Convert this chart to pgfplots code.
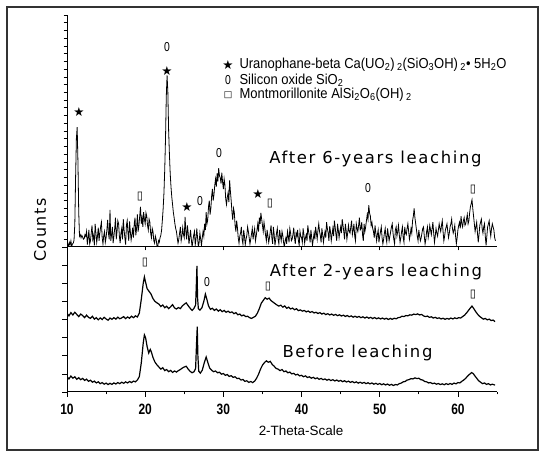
\documentclass[border=0pt]{standalone}
\usepackage{pgfplots}
\pgfplotsset{compat=1.18}
\usepackage{fontspec}
\setmainfont{Liberation Sans}
\newfontfamily\cond[FakeStretch=0.8]{Liberation Sans}
\newfontfamily\legf[FakeStretch=0.9]{Liberation Sans}
\newfontfamily\wide[LetterSpace=10]{DejaVu Sans}
\newfontfamily\sym{DejaVu Sans}

\newcommand{\st}{{\sym\fontsize{12.5}{12.5}\selectfont ★}}
\newcommand{\oo}{{\cond\fontsize{13}{13}\selectfont 0}}
\newcommand{\sq}{{\sym\fontsize{11.5}{11.5}\selectfont ▯}}

\begin{document}
\begin{tikzpicture}[x=1bp, y=1bp]
\path (0,0) rectangle (543,453);
\draw[line width=1.1bp, black!80] (7,3) rectangle (538,446);

% common look of both panels
\pgfplotsset{
  xrd/.style={
    scale only axis, width=430bp, anchor=south west,
    xmin=10, xmax=65, ymin=0,
    axis x line*=bottom, axis y line*=left,
    axis line style={-, line width=1bp},
    tick align=outside,
    tick style={black, line width=0.7bp},
    yticklabels={},
    /pgf/number format/assume math mode=true,
  },
}

% After 6 years of leaching
\begin{axis}[xrd, at={(67bp,206bp)}, height=232bp, ymax=300,
  xtick={10,20,...,60}, xticklabels={},
  ytick={0,10,...,300}, major tick length=3.5bp]
\addplot[black, line width=0.8bp] coordinates {
(10.0,2) (10.1,4) (10.2,0) (10.3,6) (10.4,3) (10.5,8) (10.6,1) (10.7,4) (10.8,5) (10.9,9)
(11.0,30) (11.1,90) (11.2,140) (11.3,155) (11.4,110) (11.5,45) (11.6,14) (11.7,16) (11.8,12) (11.9,15)
(12.0,13) (12.1,10) (12.2,11) (12.3,16) (12.4,14) (12.5,20) (12.6,3) (12.7,12) (12.8,22) (12.9,4)
(13.0,8) (13.1,18) (13.2,28) (13.3,10) (13.4,15) (13.5,2) (13.6,30) (13.7,18) (13.8,6) (13.9,14)
(14.0,25) (14.1,8) (14.2,18) (14.3,26) (14.4,32) (14.5,12) (14.6,4) (14.7,15) (14.8,20) (14.9,6)
(15.0,12) (15.1,22) (15.2,35) (15.3,18) (15.4,10) (15.5,48) (15.6,8) (15.7,16) (15.8,26) (15.9,5)
(16.0,14) (16.1,24) (16.2,38) (16.3,10) (16.4,20) (16.5,34) (16.6,30) (16.7,14) (16.8,5) (16.9,18)
(17.0,24) (17.1,10) (17.2,36) (17.3,22) (17.4,12) (17.5,3) (17.6,28) (17.7,34) (17.8,18) (17.9,8)
(18.0,33) (18.1,20) (18.2,9) (18.3,16) (18.4,25) (18.5,12) (18.6,30) (18.7,38) (18.8,15) (18.9,24)
(19.0,42) (19.1,20) (19.2,28) (19.3,40) (19.4,52) (19.5,30) (19.6,38) (19.7,26) (19.8,45) (19.9,36)
(20.0,30) (20.1,44) (20.2,40) (20.3,28) (20.4,22) (20.5,36) (20.6,32) (20.7,18) (20.8,12) (20.9,24)
(21.0,20) (21.1,8) (21.2,5) (21.3,14) (21.4,10) (21.5,2) (21.6,0) (21.7,8) (21.8,6) (21.9,12)
(22.0,15) (22.1,22) (22.2,35) (22.3,50) (22.4,70) (22.5,100) (22.6,140) (22.7,195) (22.8,222) (22.9,200)
(23.0,150) (23.1,120) (23.2,95) (23.3,78) (23.4,65) (23.5,55) (23.6,45) (23.7,38) (23.8,30) (23.9,24)
(24.0,20) (24.1,12) (24.2,5) (24.3,10) (24.4,18) (24.5,26) (24.6,8) (24.7,14) (24.8,25) (24.9,16)
(25.0,12) (25.1,39) (25.2,20) (25.3,10) (25.4,28) (25.5,18) (25.6,4) (25.7,12) (25.8,22) (25.9,10)
(26.0,0) (26.1,8) (26.2,15) (26.3,20) (26.4,3) (26.5,10) (26.6,24) (26.7,12) (26.8,0) (26.9,6)
(27.0,18) (27.1,10) (27.2,2) (27.3,12) (27.4,20) (27.5,14) (27.6,30) (27.7,22) (27.8,45) (27.9,30)
(28.0,35) (28.1,52) (28.2,60) (28.3,42) (28.4,50) (28.5,66) (28.6,75) (28.7,60) (28.8,68) (28.9,80)
(29.0,88) (29.1,78) (29.2,95) (29.3,85) (29.4,102) (29.5,92) (29.6,90) (29.7,82) (29.8,96) (29.9,84)
(30.0,75) (30.1,88) (30.2,80) (30.3,62) (30.4,55) (30.5,64) (30.6,70) (30.7,58) (30.8,86) (30.9,72)
(31.0,60) (31.1,45) (31.2,35) (31.3,50) (31.4,45) (31.5,28) (31.6,20) (31.7,34) (31.8,25) (31.9,12)
(32.0,5) (32.1,14) (32.2,18) (32.3,26) (32.4,10) (32.5,4) (32.6,22) (32.7,14) (32.8,3) (32.9,10)
(33.0,15) (33.1,26) (33.2,20) (33.3,12) (33.4,4) (33.5,10) (33.6,17) (33.7,24) (33.8,10) (33.9,18)
(34.0,24) (34.1,8) (34.2,14) (34.3,22) (34.4,30) (34.5,20) (34.6,38) (34.7,30) (34.8,44) (34.9,36)
(35.0,28) (35.1,20) (35.2,32) (35.3,24) (35.4,15) (35.5,8) (35.6,22) (35.7,14) (35.8,6) (35.9,12)
(36.0,20) (36.1,28) (36.2,12) (36.3,4) (36.4,26) (36.5,16) (36.6,2) (36.7,10) (36.8,18) (36.9,24)
(37.0,10) (37.1,4) (37.2,22) (37.3,14) (37.4,8) (37.5,20) (37.6,15) (37.7,6) (37.8,0) (37.9,8)
(38.0,12) (38.1,4) (38.2,20) (38.3,14) (38.4,6) (38.5,24) (38.6,18) (38.7,8) (38.8,10) (38.9,16)
(39.0,25) (39.1,12) (39.2,4) (39.3,18) (39.4,14) (39.5,22) (39.6,8) (39.7,2) (39.8,20) (39.9,14)
(40.0,12) (40.1,6) (40.2,24) (40.3,16) (40.4,5) (40.5,12) (40.6,16) (40.7,8) (40.8,28) (40.9,20)
(41.0,14) (41.1,6) (41.2,22) (41.3,12) (41.4,2) (41.5,10) (41.6,18) (41.7,10) (41.8,26) (41.9,18)
(42.0,10) (42.1,22) (42.2,30) (42.3,20) (42.4,15) (42.5,6) (42.6,24) (42.7,16) (42.8,6) (42.9,14)
(43.0,20) (43.1,12) (43.2,32) (43.3,24) (43.4,18) (43.5,8) (43.6,27) (43.7,20) (43.8,8) (43.9,16)
(44.0,24) (44.1,14) (44.2,34) (44.3,26) (44.4,16) (44.5,8) (44.6,30) (44.7,22) (44.8,12) (44.9,20)
(45.0,26) (45.1,18) (45.2,36) (45.3,28) (45.4,20) (45.5,10) (45.6,30) (45.7,22) (45.8,10) (45.9,18)
(46.0,28) (46.1,20) (46.2,18) (46.3,26) (46.4,34) (46.5,16) (46.6,22) (46.7,30) (46.8,14) (46.9,8)
(47.0,30) (47.1,24) (47.2,20) (47.3,28) (47.4,38) (47.5,22) (47.6,24) (47.7,32) (47.8,16) (47.9,8)
(48.0,30) (48.1,20) (48.2,26) (48.3,34) (48.4,42) (48.5,36) (48.6,54) (48.7,44) (48.8,40) (48.9,28)
(49.0,32) (49.1,24) (49.2,20) (49.3,12) (49.4,28) (49.5,18) (49.6,8) (49.7,16) (49.8,22) (49.9,6)
(50.0,14) (50.1,20) (50.2,26) (50.3,12) (50.4,4) (50.5,10) (50.6,18) (50.7,24) (50.8,12) (50.9,6)
(51.0,24) (51.1,16) (51.2,8) (51.3,14) (51.4,20) (51.5,26) (51.6,30) (51.7,18) (51.8,10) (51.9,4)
(52.0,22) (52.1,26) (52.2,14) (52.3,20) (52.4,28) (52.5,16) (52.6,6) (52.7,12) (52.8,20) (52.9,26)
(53.0,12) (53.1,6) (53.2,26) (53.3,18) (53.4,16) (53.5,24) (53.6,30) (53.7,20) (53.8,10) (53.9,16)
(54.0,24) (54.1,18) (54.2,34) (54.3,40) (54.4,50) (54.5,38) (54.6,30) (54.7,22) (54.8,14) (54.9,8)
(55.0,22) (55.1,14) (55.2,8) (55.3,12) (55.4,18) (55.5,24) (55.6,26) (55.7,14) (55.8,4) (55.9,10)
(56.0,20) (56.1,26) (56.2,12) (56.3,18) (56.4,28) (56.5,22) (56.6,16) (56.7,24) (56.8,32) (56.9,18)
(57.0,6) (57.1,14) (57.2,24) (57.3,18) (57.4,14) (57.5,22) (57.6,30) (57.7,24) (57.8,20) (57.9,28)
(58.0,34) (58.1,20) (58.2,8) (58.3,14) (58.4,22) (58.5,26) (58.6,30) (58.7,20) (58.8,12) (58.9,18)
(59.0,26) (59.1,30) (59.2,36) (59.3,24) (59.4,18) (59.5,22) (59.6,28) (59.7,14) (59.8,4) (59.9,12)
(60.0,22) (60.1,28) (60.2,32) (60.3,24) (60.4,40) (60.5,30) (60.6,26) (60.7,34) (60.8,38) (60.9,28)
(61.0,30) (61.1,36) (61.2,42) (61.3,30) (61.4,34) (61.5,44) (61.6,52) (61.7,56) (61.8,61) (61.9,50)
(62.0,40) (62.1,30) (62.2,20) (62.3,26) (62.4,32) (62.5,18) (62.6,6) (62.7,16) (62.8,28) (62.9,32)
(63.0,36) (63.1,24) (63.2,18) (63.3,26) (63.4,30) (63.5,14) (63.6,2) (63.7,14) (63.8,26) (63.9,30)
(64.0,34) (64.1,22) (64.2,14) (64.3,24) (64.4,30) (64.5,26) (64.6,22) (64.7,12) (64.8,8)
};
\end{axis}

% After 2 years of leaching and before leaching
\begin{axis}[xrd, at={(67bp,61bp)}, height=145bp, ymax=80,
  xtick={10,20,...,60}, minor xtick={15,25,...,65},
  ytick={0,10,...,80}, major tick length=5bp, minor tick length=2.5bp,
  xticklabel style={font=\cond\bfseries\fontsize{15}{15}\selectfont, yshift=-4bp}]
\addplot[black, line width=1.2bp] coordinates {
(10.00,43.5) (10.25,42.0) (10.50,43.8) (10.75,42.5) (11.00,44.0) (11.25,42.8) (11.50,41.6) (11.75,43.0)
(12.00,42.2) (12.25,41.0) (12.50,42.4) (12.75,41.2) (13.00,40.6) (13.25,41.8) (13.50,40.2) (13.75,41.0)
(14.00,39.8) (14.25,40.9) (14.50,40.0) (14.75,41.2) (15.00,40.3) (15.25,39.6) (15.50,40.8) (15.75,40.1)
(16.00,41.0) (16.25,40.2) (16.50,41.3) (16.75,40.4) (17.00,40.9) (17.25,41.6) (17.50,40.5) (17.75,41.4)
(18.00,40.7) (18.25,41.8) (18.50,41.0) (18.75,42.0) (19.00,41.4) (19.25,43.5) (19.50,51.0) (19.75,60.0)
(19.90,63.5) (20.00,61.5) (20.25,57.0) (20.50,55.5) (20.75,54.0) (21.00,51.5) (21.25,50.0) (21.50,49.2)
(21.75,48.5) (22.00,47.2) (22.25,48.0) (22.50,46.5) (22.75,47.3) (23.00,46.0) (23.25,47.0) (23.50,48.2)
(23.75,46.4) (24.00,45.8) (24.25,46.6) (24.50,46.0) (24.75,47.5) (25.00,48.4) (25.25,49.2) (25.50,47.6)
(25.75,46.2) (26.00,45.0) (26.25,46.2) (26.45,48.0) (26.55,60.0) (26.62,69.6) (26.70,52.0) (26.80,46.0)
(27.00,45.2) (27.25,46.4) (27.50,50.0) (27.70,54.0) (27.90,51.0) (28.10,47.5) (28.35,45.6) (28.60,46.2)
(28.85,45.0) (29.10,45.8) (29.35,44.6) (29.60,45.4) (29.85,44.3) (30.10,45.0) (30.35,44.0) (30.60,44.6)
(30.85,43.8) (31.10,44.2) (31.35,43.2) (31.60,43.8) (31.85,42.6) (32.10,43.0) (32.35,42.0) (32.60,42.5)
(32.85,41.6) (33.10,41.8) (33.35,41.0) (33.60,40.6) (33.85,41.2) (34.10,41.8) (34.35,43.5) (34.60,46.0)
(34.85,49.0) (35.10,50.5) (35.35,52.0) (35.60,51.2) (35.85,51.8) (36.10,50.4) (36.35,49.6) (36.60,48.8)
(36.85,48.0) (37.10,47.4) (37.35,47.9) (37.60,46.8) (37.85,47.5) (38.10,46.2) (38.35,46.8) (38.60,45.8)
(38.85,46.3) (39.10,45.4) (39.35,45.9) (39.60,44.9) (39.85,45.3) (40.10,44.6) (40.35,45.0) (40.60,44.2)
(40.85,44.7) (41.10,43.9) (41.35,44.4) (41.60,43.6) (41.85,44.0) (42.10,43.3) (42.35,43.8) (42.60,43.0)
(42.85,43.5) (43.10,42.7) (43.35,43.2) (43.60,42.5) (43.85,43.0) (44.10,42.3) (44.35,42.8) (44.60,42.1)
(44.85,42.6) (45.10,41.9) (45.35,42.4) (45.60,41.7) (45.85,42.2) (46.10,41.5) (46.35,42.0) (46.60,41.3)
(46.85,41.8) (47.10,41.2) (47.35,41.7) (47.60,41.0) (47.85,41.5) (48.10,40.8) (48.35,41.4) (48.60,40.7)
(48.85,41.2) (49.10,40.5) (49.35,41.1) (49.60,40.4) (49.85,40.9) (50.10,40.3) (50.35,40.8) (50.60,40.2)
(50.85,40.7) (51.10,40.0) (51.35,40.6) (51.60,40.1) (51.85,40.7) (52.10,40.4) (52.35,41.0) (52.60,41.2)
(52.85,41.8) (53.10,41.6) (53.35,42.2) (53.60,42.0) (53.85,42.6) (54.10,42.4) (54.35,43.0) (54.60,42.7)
(54.85,43.1) (55.10,42.5) (55.35,42.8) (55.60,42.0) (55.85,41.6) (56.10,41.9) (56.35,41.2) (56.60,41.5)
(56.85,40.8) (57.10,41.2) (57.35,40.6) (57.60,40.9) (57.85,40.3) (58.10,40.7) (58.35,40.1) (58.60,40.6)
(58.85,40.2) (59.10,40.8) (59.35,40.3) (59.60,40.9) (59.85,40.5) (60.10,41.0) (60.35,40.8) (60.60,41.6)
(60.85,42.4) (61.10,43.6) (61.35,45.0) (61.60,46.4) (61.80,47.4) (62.00,46.2) (62.25,44.5) (62.50,43.0)
(62.75,41.8) (63.00,41.0) (63.25,40.2) (63.50,40.6) (63.75,39.8) (64.00,40.2) (64.25,39.4) (64.50,39.7)
(64.75,38.8)
};
\addplot[black, line width=1.2bp] coordinates {
(10.00,8.5) (10.25,7.2) (10.50,8.8) (10.75,7.6) (11.00,8.4) (11.25,7.0) (11.50,7.9) (11.75,6.8)
(12.00,7.5) (12.25,6.4) (12.50,7.1) (12.75,5.9) (13.00,6.5) (13.25,5.4) (13.50,6.0) (13.75,5.0)
(14.00,5.6) (14.25,4.6) (14.50,5.2) (14.75,4.3) (15.00,4.9) (15.25,4.1) (15.50,4.8) (15.75,4.2)
(16.00,5.0) (16.25,4.4) (16.50,5.2) (16.75,4.6) (17.00,5.4) (17.25,4.8) (17.50,5.6) (17.75,5.0)
(18.00,5.8) (18.25,5.2) (18.50,6.0) (18.75,5.6) (19.00,6.6) (19.25,8.5) (19.50,16.0) (19.75,27.0)
(19.90,31.5) (20.05,30.0) (20.25,25.0) (20.45,21.5) (20.65,23.5) (20.80,22.0) (21.00,19.0) (21.25,16.5)
(21.50,15.0) (21.75,13.8) (22.00,12.6) (22.25,13.4) (22.50,11.8) (22.75,12.4) (23.00,11.2) (23.25,11.9)
(23.50,10.8) (23.75,11.6) (24.00,11.0) (24.25,11.8) (24.50,12.4) (24.75,13.2) (25.00,13.8) (25.25,14.2)
(25.50,12.6) (25.75,11.4) (26.00,10.6) (26.25,11.2) (26.45,13.0) (26.58,28.0) (26.66,36.0) (26.74,20.0)
(26.85,11.5) (27.05,10.4) (27.30,12.0) (27.55,16.0) (27.80,19.3) (28.00,16.5) (28.25,13.2) (28.50,12.0)
(28.75,11.2) (29.00,11.6) (29.25,10.6) (29.50,10.9) (29.75,9.8) (30.00,10.2) (30.25,9.2) (30.50,9.6)
(30.75,8.6) (31.00,9.0) (31.25,8.1) (31.50,8.4) (31.75,7.4) (32.00,7.6) (32.25,6.6) (32.50,6.9)
(32.75,5.9) (33.00,6.2) (33.25,5.3) (33.50,5.8) (33.75,5.2) (34.00,6.0) (34.25,7.6) (34.50,9.8)
(34.75,12.6) (35.00,14.8) (35.25,16.2) (35.50,17.2) (35.75,16.4) (36.00,16.9) (36.25,15.2) (36.50,14.2)
(36.75,13.0) (37.00,12.6) (37.25,11.8) (37.50,12.4) (37.75,11.2) (38.00,11.6) (38.25,10.6) (38.50,11.0)
(38.75,10.0) (39.00,10.3) (39.25,9.4) (39.50,9.8) (39.75,8.9) (40.00,9.2) (40.25,8.4) (40.50,8.9)
(40.75,8.0) (41.00,8.4) (41.25,7.6) (41.50,8.1) (41.75,7.3) (42.00,7.8) (42.25,7.0) (42.50,7.5)
(42.75,6.8) (43.00,7.2) (43.25,6.5) (43.50,7.0) (43.75,6.3) (44.00,6.8) (44.25,6.1) (44.50,6.6)
(44.75,5.9) (45.00,6.4) (45.25,5.7) (45.50,6.2) (45.75,5.5) (46.00,6.0) (46.25,5.3) (46.50,5.8)
(46.75,5.1) (47.00,5.6) (47.25,4.9) (47.50,5.4) (47.75,4.8) (48.00,5.3) (48.25,4.6) (48.50,5.1)
(48.75,4.5) (49.00,5.0) (49.25,4.3) (49.50,4.8) (49.75,4.2) (50.00,4.7) (50.25,4.0) (50.50,4.5)
(50.75,3.9) (51.00,4.4) (51.25,3.7) (51.50,4.2) (51.75,3.6) (52.00,4.1) (52.25,3.9) (52.50,4.6)
(52.75,4.9) (53.00,5.6) (53.25,5.8) (53.50,6.6) (53.75,6.8) (54.00,7.4) (54.25,7.2) (54.50,7.8)
(54.75,7.4) (55.00,7.6) (55.25,6.8) (55.50,6.6) (55.75,5.8) (56.00,5.6) (56.25,5.0) (56.50,5.2)
(56.75,4.6) (57.00,4.9) (57.25,4.3) (57.50,4.7) (57.75,4.1) (58.00,4.5) (58.25,4.0) (58.50,4.6)
(58.75,4.1) (59.00,4.7) (59.25,4.2) (59.50,4.9) (59.75,4.5) (60.00,5.2) (60.25,5.0) (60.50,5.9)
(60.75,6.6) (61.00,7.6) (61.25,8.8) (61.50,9.8) (61.75,10.7) (61.95,10.2) (62.15,9.0) (62.40,7.6)
(62.65,6.2) (62.90,5.4) (63.15,4.6) (63.40,5.0) (63.65,4.2) (63.90,4.6) (64.15,3.9) (64.40,4.3)
(64.75,3.8)
};
\end{axis}

% axis titles
\node[rotate=90, font=\wide\fontsize{16}{16}\selectfont] at (40,223) {Counts};
\node[font=\fontsize{13.5}{13.5}\selectfont] at (301,22) {2-Theta-Scale};

% sample names
\node[font=\wide\fontsize{16.5}{16.5}\selectfont] at (375.5,294) {After 6-years leaching};
\node[font=\wide\fontsize{16.5}{16.5}\selectfont] at (376,181) {After 2-years leaching};
\node[font=\wide\fontsize{16.5}{16.5}\selectfont] at (357.5,100) {Before leaching};

% phase legend
\begin{scope}[font=\legf\fontsize{14.5}{14.5}\selectfont]
\node at (228,388) {\st};
\node at (228,373) {\oo};
\node at (228,358) {{\sym\fontsize{9}{9}\selectfont □}};
\node[anchor=west] at (236,388) {Uranophane-beta Ca(UO\textsubscript{2})\,\textsubscript{2}(SiO\textsubscript{3}OH)\,\textsubscript{2}• 5H\textsubscript{2}O};
\node[anchor=west] at (236,373) {Silicon oxide SiO\textsubscript{2}};
\node[anchor=west] at (236,358) {Montmorillonite AlSi\textsubscript{2}O\textsubscript{6}(OH)\,\textsubscript{2}};
\end{scope}

% peak marks, 6 years
\node at (79,341) {\st};
\node at (167,406) {\oo};
\node at (167,382) {\st};
\node at (140,256) {\sq};
\node at (187,246) {\st};
\node at (200,252) {\oo};
\node at (219,300) {\oo};
\node at (258,259) {\st};
\node at (270,249) {\sq};
\node at (368,265) {\oo};
\node at (473,263) {\sq};

% peak marks, 2 years
\node at (145,190) {\sq};
\node at (207,171) {\oo};
\node at (268,166) {\sq};
\node at (473,158) {\sq};
\end{tikzpicture}
\end{document}
